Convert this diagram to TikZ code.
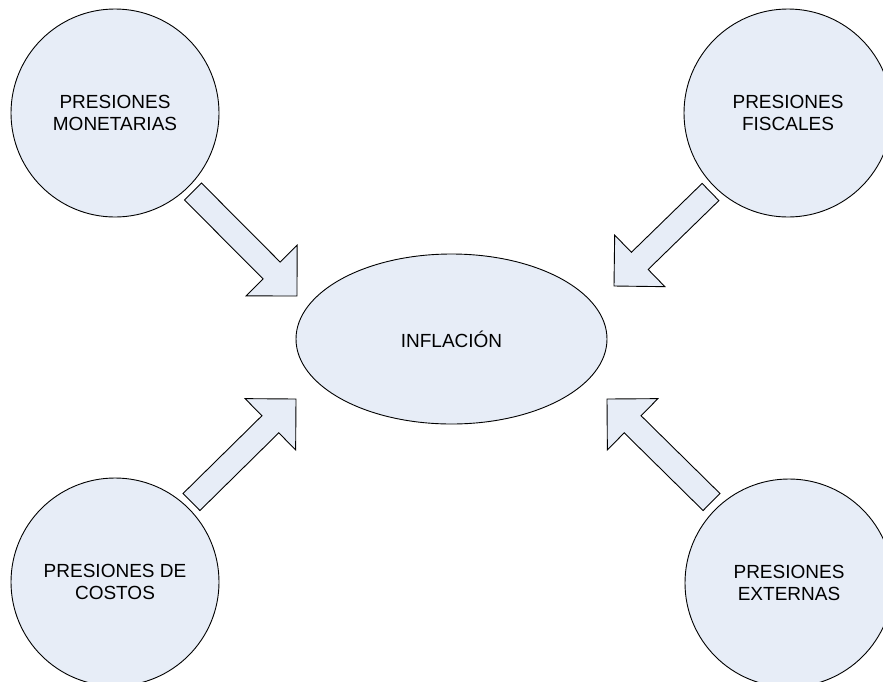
\documentclass[tikz,border=0pt]{standalone}
\usepackage{fontspec}
\setmainfont{Liberation Sans}
\usetikzlibrary{shapes.geometric,calc}

\definecolor{relleno}{RGB}{231,237,247}

\tikzset{
  presion/.style={circle, draw, fill=relleno, minimum size=208pt, inner sep=0pt,
    align=center, font=\fontsize{19}{22}\selectfont},
  nucleo/.style={ellipse, draw, fill=relleno, minimum width=311pt, minimum height=170pt,
    inner sep=0pt, font=\fontsize{19}{22}\selectfont},
  flecha/.style={draw, fill=relleno, line join=miter}
}

\begin{document}
\begin{tikzpicture}[x=1pt, y=-1pt, line width=.9pt]
    \useasboundingbox (0,0) rectangle (883,681);
    \clip (0,0) rectangle (883,681);

    \node[presion] (mon) at (115,113) {PRESIONES\\MONETARIAS};
    \node[presion] (fis) at (788,113) {PRESIONES\\FISCALES};
    \node[presion] (cos) at (115,582) {PRESIONES DE\\COSTOS};
    \node[presion] (ext) at (789,583) {PRESIONES\\EXTERNAS};
    \node[nucleo] (inf) at (451.5,339) {INFLACIÓN};

    % cola (c) y punta (p) de cada flecha
    \coordinate (c1) at (193,191.5);  \coordinate (p1) at (297,296);
    \coordinate (c2) at (710.5,192);  \coordinate (p2) at (614,286);
    \coordinate (c3) at (191.5,502);  \coordinate (p3) at (296,399);
    \coordinate (c4) at (711.5,502);  \coordinate (p4) at (607,399);

    \foreach \i in {1,...,4}
    \draw[flecha] ($(c\i)!12pt!90:(p\i)$)
      -- ($(p\i)!36pt!(c\i)!12pt!90:(p\i)$)
      -- ($(p\i)!36pt!(c\i)!36pt!90:(p\i)$)
      -- (p\i)
      -- ($(p\i)!36pt!(c\i)!36pt!-90:(p\i)$)
      -- ($(p\i)!36pt!(c\i)!12pt!-90:(p\i)$)
      -- ($(c\i)!12pt!-90:(p\i)$) -- cycle;

\end{tikzpicture}
\end{document}
